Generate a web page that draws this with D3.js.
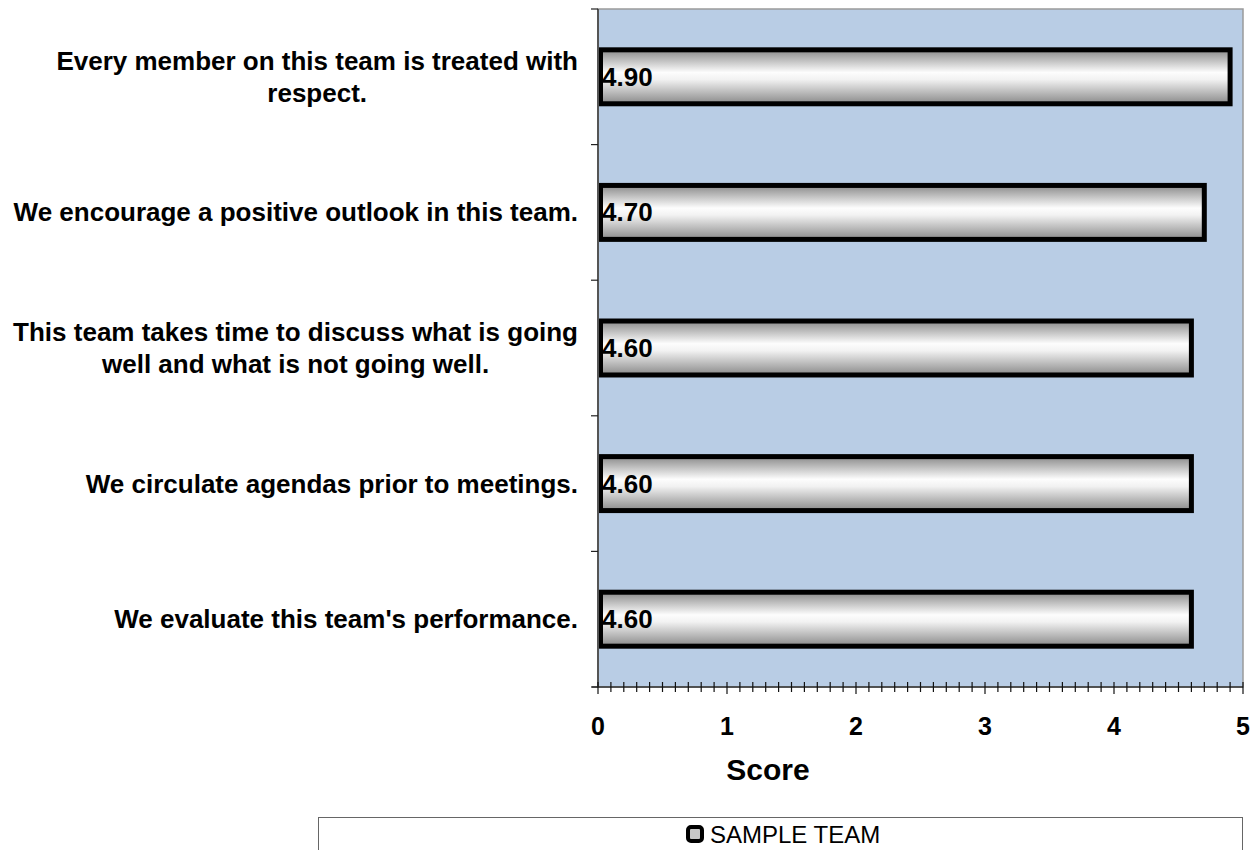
<!DOCTYPE html>
<html><head><meta charset="utf-8">
<script src="https://cdn.jsdelivr.net/npm/d3@7"></script>
<style>body{margin:0;background:#fff}svg{display:block}text{font-family:"Liberation Sans",Arial,sans-serif}</style>
</head><body><svg id="c" width="1258" height="850"></svg>
<script>
const categories = [
  ["Every member on this team is treated with", "respect."],
  ["We encourage a positive outlook in this team."],
  ["This team takes time to discuss what is going", "well and what is not going well."],
  ["We circulate agendas prior to meetings."],
  ["We evaluate this team's performance."]
];
const values = [4.90, 4.70, 4.60, 4.60, 4.60];
const xTicks = [0, 1, 2, 3, 4, 5];
const seriesName = "SAMPLE TEAM";
const axisTitle = "Score";

const svg = d3.select("#c");
const L = 598, R = 1243, T = 9, B = 687;
const x = d3.scaleLinear().domain([0, 5]).range([L, R]);
const y = d3.scaleBand().domain(d3.range(categories.length)).range([T, B]).paddingInner(0.602).paddingOuter(0.301);

const defs = svg.append("defs");
const g = defs.append("linearGradient").attr("id", "bg").attr("x1", 0).attr("y1", 0).attr("x2", 0).attr("y2", 1);
[[0, "#8a8a8a"], [0.42, "#fdfdfd"], [0.55, "#f2f2f2"], [1, "#8a8a8a"]].forEach(([o, c]) => g.append("stop").attr("offset", o).attr("stop-color", c));

svg.append("rect").attr("x", L).attr("y", T).attr("width", R - L).attr("height", B - T)
  .attr("fill", "#b9cde5").attr("stroke", "#9a9a9a").attr("stroke-width", 1.5);

// bars
svg.selectAll(".bar").data(values).join("rect")
  .attr("x", x(0) + 2.5).attr("y", (d, i) => y(i))
  .attr("width", d => x(d) - x(0) - 2.5).attr("height", y.bandwidth())
  .attr("fill", "url(#bg)").attr("stroke", "#000").attr("stroke-width", 5);

svg.selectAll(".val").data(values).join("text")
  .attr("x", x(0) + 4).attr("y", (d, i) => y(i) + y.bandwidth() / 2 + 9)
  .attr("font-size", 26).attr("font-weight", "bold").text(d => d.toFixed(2));

// left axis
svg.append("line").attr("x1", L).attr("x2", L).attr("y1", T).attr("y2", B).attr("stroke", "#555").attr("stroke-width", 2);
const step = (B - T) / categories.length;
d3.range(categories.length + 1).forEach(i => {
  svg.append("line").attr("x1", L - 7).attr("x2", L).attr("y1", T + i * step).attr("y2", T + i * step).attr("stroke", "#222").attr("stroke-width", 1.2);
});

// category labels
categories.forEach((lines, i) => {
  const cy = y(i) + y.bandwidth() / 2;
  const lh = 32;
  const t = svg.append("text").attr("font-size", 26).attr("font-weight", "bold").attr("text-anchor", "middle");
  lines.forEach((s, k) => {
    t.append("tspan").attr("x", 0).attr("y", cy + 9 + (k - (lines.length - 1) / 2) * lh).text(s);
  });
  const w = t.node().getBBox();
  t.attr("transform", `translate(${578 - (w.x + w.width)},0)`);
});

// bottom axis
svg.append("line").attr("x1", L - 6).attr("x2", R).attr("y1", B).attr("y2", B).attr("stroke", "#333").attr("stroke-width", 1.5);
const minor = d3.range(0, 50.5, 1).map(v => v / 10);
svg.selectAll(".mt").data(minor).join("line")
  .attr("x1", d => x(d)).attr("x2", d => x(d))
  .attr("y1", B - 5).attr("y2", d => Math.abs(d - Math.round(d)) < 1e-9 ? B + 7 : B + 5)
  .attr("stroke", "#111").attr("stroke-width", 1.2);
svg.selectAll(".xt").data(xTicks).join("text")
  .attr("x", d => x(d)).attr("y", 735).attr("text-anchor", "middle")
  .attr("font-size", 25).attr("font-weight", "bold").text(d => d);
svg.append("text").attr("x", 768).attr("y", 780).attr("text-anchor", "middle")
  .attr("font-size", 30).attr("font-weight", "bold").text(axisTitle);

// legend
svg.append("rect").attr("x", 318.5).attr("y", 817.5).attr("width", 924).attr("height", 60)
  .attr("fill", "#fff").attr("stroke", "#666").attr("stroke-width", 1);
svg.append("rect").attr("x", 688).attr("y", 827).attr("width", 14).attr("height", 14).attr("rx", 3)
  .attr("fill", "#c8c8c8").attr("stroke", "#000").attr("stroke-width", 4);
svg.append("text").attr("x", 710).attr("y", 843).attr("font-size", 24).text(seriesName);
</script></body></html>
